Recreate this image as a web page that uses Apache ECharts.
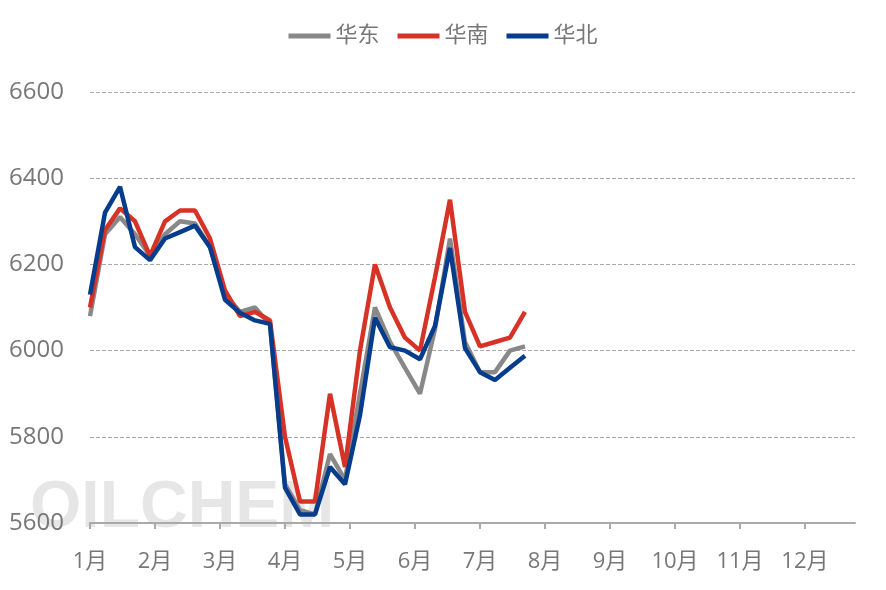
<!DOCTYPE html>
<html><head><meta charset="utf-8">
<script src="https://cdn.jsdelivr.net/npm/echarts@6/dist/echarts.min.js"></script>
<style>html,body{margin:0;padding:0;background:#fff}#c{width:886px;height:590px}</style>
</head><body><div id="c"></div>
<script>
const months = ['1月','2月','3月','4月','5月','6月','7月','8月','9月','10月','11月','12月'];
const eastValues = [6080,6270,6310,6270,6220,6270,6300,6295,6240,6130,6090,6100,6060,5690,5630,5620,5760,5700,5900,6100,6020,5960,5900,6050,6260,6020,5950,5950,6000,6010];
const southValues = [6100,6280,6330,6300,6220,6300,6325,6325,6260,6140,6080,6090,6070,5800,5650,5650,5900,5730,6000,6200,6100,6030,6000,6170,6350,6090,6010,6020,6030,6090];
const northValues = [6130,6320,6380,6240,6210,6260,6275,6290,6240,6118,6088,6070,6062,5682,5620,5620,5730,5690,5850,6076,6008,6000,5980,6057,6238,6006,5950,5932,5960,5988];
const weekStep = 3/13; // weekly points on a monthly axis
const toPts = v => v.map((y,i)=>[i*weekStep,y]);
const mk = (name,data,color)=>({name,type:'line',data:toPts(data),symbol:'none',lineStyle:{width:4.5,color},itemStyle:{color}});
const chart = echarts.init(document.getElementById('c'));
chart.setOption({
  animation:false,
  textStyle:{fontFamily:'"Open Sans", "Noto Sans CJK SC", sans-serif'},
  legend:{top:20,left:'center',icon:'rect',itemWidth:42,itemHeight:5,itemGap:18,textStyle:{fontSize:22,color:'#777'},data:['华东','华南','华北']},
  graphic:[{type:'text',left:30,top:476,z:-1,style:{text:'OILCHEM',fontSize:66,fontWeight:'bold',fontFamily:'Arial',fill:'rgba(200,200,200,0.45)'}}],
  grid:{left:90,right:31,top:92,bottom:67},
  xAxis:{type:'value',min:0,max:11.77,interval:1,
    axisLine:{lineStyle:{color:'#aaa',width:2}},axisTick:{show:true,length:6,lineStyle:{color:'#aaa',width:2}},
    splitLine:{show:false},
    axisLabel:{fontSize:22,color:'#777',margin:28,showMaxLabel:false,formatter:v=>months[Math.round(v)]||''}},
  yAxis:{type:'value',min:5600,max:6600,interval:200,
    axisLine:{show:false},axisTick:{show:false},
    splitLine:{lineStyle:{type:'dashed',color:'#aaa'}},
    axisLabel:{fontSize:24,color:'#777',margin:26,formatter:v=>String(v)}},
  series:[mk('华东',eastValues,'#888888'),mk('华南',southValues,'#d63226'),mk('华北',northValues,'#063c8c')]
});
</script></body></html>
